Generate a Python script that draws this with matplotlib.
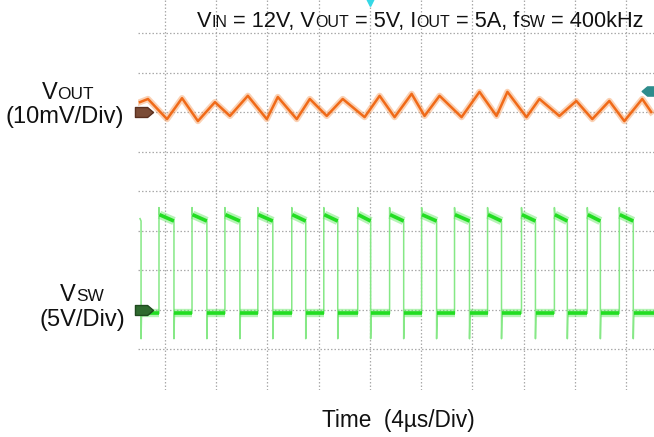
import matplotlib
matplotlib.use("Agg")
import matplotlib.pyplot as plt
from matplotlib.path import Path
from matplotlib.transforms import IdentityTransform

# ---------------- data ----------------
# horizontal scale 4 us/div, grid lines every division
time_grid_us = [0, 4, 8, 12, 16, 20, 24, 28, 32, 36]
div_grid = [0, 1, 2, 3, 4, 5, 6, 7, 8]

# V_OUT ripple (AC, mV) at 10 mV/div, turning points
vout_t_us = [-1.95, -1.33, 0.16, 1.33, 2.57, 3.90, 5.07, 6.47, 7.95, 8.81,
             10.29, 11.31, 12.63, 13.88, 15.59, 16.76, 17.93, 19.26, 20.27,
             21.44, 23.16, 24.56, 25.89, 26.74, 28.23, 29.24, 30.80, 32.12,
             33.37, 34.70, 35.87, 37.27, 37.97]
vout_mv = [2.5, 3.3, -1.8, 3.5, -2.3, 2.5, -1.0, 4.1, -1.8, 3.8,
           -1.8, 3.3, -1.0, 3.3, -1.3, 4.1, -1.3, 4.6, -1.0,
           4.1, -1.3, 5.1, -1.0, 5.1, -1.3, 3.3, -1.0, 2.8,
           -1.8, 2.8, -2.3, 3.3, 0.0]

# V_SW switch node at 5 V/div: edge times (us) and levels (V)
sw_fall_us = [-1.87, 0.70, 3.27, 5.85, 8.42, 10.99, 13.49, 16.06, 18.64,
              21.21, 23.78, 26.28, 28.93, 31.42, 34.00, 36.57]
sw_rise_us = [-0.47, 2.11, 4.68, 7.25, 9.90, 12.40, 15.05, 17.54, 20.04,
              22.61, 25.19, 27.84, 30.41, 32.98, 35.48]
sw_trace_start_us = -1.95
sw_trace_end_us = 38.15
sw_high_start_v = 12.0
sw_high_end_v = 11.2
sw_low_v = -0.5
sw_rise_spike_v = 12.9
sw_fall_spike_v = -3.7

# channel ground positions in divisions from the bottom grid line
vout_ref_div = 6
vsw_ref_div = 1
vout_mv_per_div = 10.0
vsw_v_per_div = 5.0

FONT = ["Liberation Sans", "DejaVu Sans"]

# ---------------- figure ----------------
W, H = 654, 437
fig = plt.figure(figsize=(W / 100, H / 100), dpi=100)
ax = fig.add_axes([138 / W, 47 / H, 516 / W, 390 / H])
px_per_div_x = 51.22
ax.set_xlim(-27 / px_per_div_x * 4, 489 / px_per_div_x * 4)
ax.set_ylim(-41 / 39.5, 8 + 33 / 39.5)
ax.set_xticks(time_grid_us)
ax.set_yticks(div_grid)
ax.tick_params(left=False, bottom=False, labelleft=False, labelbottom=False)
for s in ax.spines.values():
    s.set_visible(False)
ax.grid(True, color="#aaaaaa", linestyle=(0, (1.2, 1.6)), linewidth=0.9)
ax.set_axisbelow(True)

# --- V_SW trace
dt = 0.04
pt, pv = [sw_trace_start_us], [sw_high_end_v + 0.3]
highs, lows = [], []
for i, tf in enumerate(sw_fall_us):
    pt += [tf, tf, tf + dt]
    pv += [sw_high_end_v, sw_fall_spike_v, sw_low_v]
    if i < len(sw_rise_us):
        tr = sw_rise_us[i]
        lows.append((tf + dt, tr))
        pt += [tr, tr, tr + dt]
        pv += [sw_low_v, sw_rise_spike_v, sw_high_start_v]
        nxt = sw_fall_us[i + 1] if i + 1 < len(sw_fall_us) else None
        if nxt is not None:
            highs.append((tr + dt, nxt))
    else:
        lows.append((tf + dt, sw_trace_end_us))
        pt += [sw_trace_end_us]
        pv += [sw_low_v]

to_sw = lambda v: vsw_ref_div + v / vsw_v_per_div
ax.plot(pt, [to_sw(v) for v in pv], color="#86e886", lw=1.1, zorder=3)
for a, b in highs:
    ax.plot([a, b], [to_sw(sw_high_start_v), to_sw(sw_high_end_v)],
            color="#5be85b", lw=6, alpha=0.45, solid_capstyle="butt", zorder=4)
    ax.plot([a, b], [to_sw(sw_high_start_v), to_sw(sw_high_end_v)],
            color="#22dd22", lw=2.6, solid_capstyle="butt", zorder=5)
for a, b in lows:
    ax.plot([a, b], [to_sw(sw_low_v), to_sw(sw_low_v)],
            color="#5be85b", lw=6, alpha=0.45, solid_capstyle="butt", zorder=4)
    ax.plot([a, b], [to_sw(sw_low_v), to_sw(sw_low_v)],
            color="#22dd22", lw=2.6, solid_capstyle="butt", zorder=5)

# --- V_OUT trace
vo_y = [vout_ref_div + m / vout_mv_per_div for m in vout_mv]
ax.plot(vout_t_us, vo_y, color="#f59a5a", lw=4.5, alpha=0.45, zorder=4,
        solid_joinstyle="round")
ax.plot(vout_t_us, vo_y, color="#f06a18", lw=1.8, zorder=5,
        solid_joinstyle="round")

# --- channel markers
tag = Path([(-1, -0.55), (0.35, -0.55), (1, 0), (0.35, 0.55), (-1, 0.55),
            (-1, -0.55)], closed=True)
x0 = ax.get_xlim()[0]
x1 = ax.get_xlim()[1]
ax.plot([x0 + 0.45], [vout_ref_div], marker=tag, ms=13, color="#7a4b36",
        mec="#5a3020", zorder=6, clip_on=False)
ax.plot([x0 + 0.45], [vsw_ref_div], marker=tag, ms=13, color="#2f6a2f",
        mec="#1f4a1f", zorder=6, clip_on=False)
tag_l = Path([(1, -0.55), (-0.35, -0.55), (-1, 0), (-0.35, 0.55), (1, 0.55),
              (1, -0.55)], closed=True)
ax.plot([x1 - 0.35], [vout_ref_div + 0.53], marker=tag_l, ms=12,
        color="#2e8c8c", zorder=6, clip_on=False)
ax.plot([16], [ax.get_ylim()[1]], marker="v", ms=8, color="#35d8e6",
        mec="#35d8e6", zorder=6, clip_on=True)

# ---------------- text ----------------
fig.canvas.draw()
rend = fig.canvas.get_renderer()


def _w(s, size):
    t = fig.text(0, 0, s, fontsize=size, family=FONT)
    w = t.get_window_extent(rend).width
    t.remove()
    return w


def measure(s, size):
    return _w("|" + s + "|", size) - _w("||", size)


def rich(pieces, x, y_top, align="left"):
    total = sum(measure(s, z) for s, z in pieces)
    if align == "center":
        x = x - total / 2
    ybase = H - y_top
    for s, z in pieces:
        lead = len(s) - len(s.lstrip(" "))
        core = s.strip(" ")
        if core:
            fig.text(x + (measure(" " * lead, z) if lead else 0), ybase, core,
                     fontsize=z, family=FONT, va="baseline", ha="left",
                     transform=IdentityTransform(), color="#111111")
        x += measure(s, z)


big, small = 15.7, 11.5
rich([("V", big), ("IN", small), (" = 12V, V", big), ("OUT", small),
      (" = 5V, I", big), ("OUT", small), (" = 5A, f", big), ("SW", small),
      (" = 400kHz", big)], 197, 27)

lab, labs = 17, 12.4
rich([("V", lab), ("OUT", labs)], 68, 99, "center")
rich([("(10mV/Div)", lab)], 65, 123, "center")
rich([("V", lab), ("SW", labs)], 82, 301, "center")
rich([("(5V/Div)", lab)], 82.5, 326, "center")
rich([("Time  (4\u00b5s/Div)", 16.3)], 398, 427, "center")

fig.savefig("out.png", dpi=100)
